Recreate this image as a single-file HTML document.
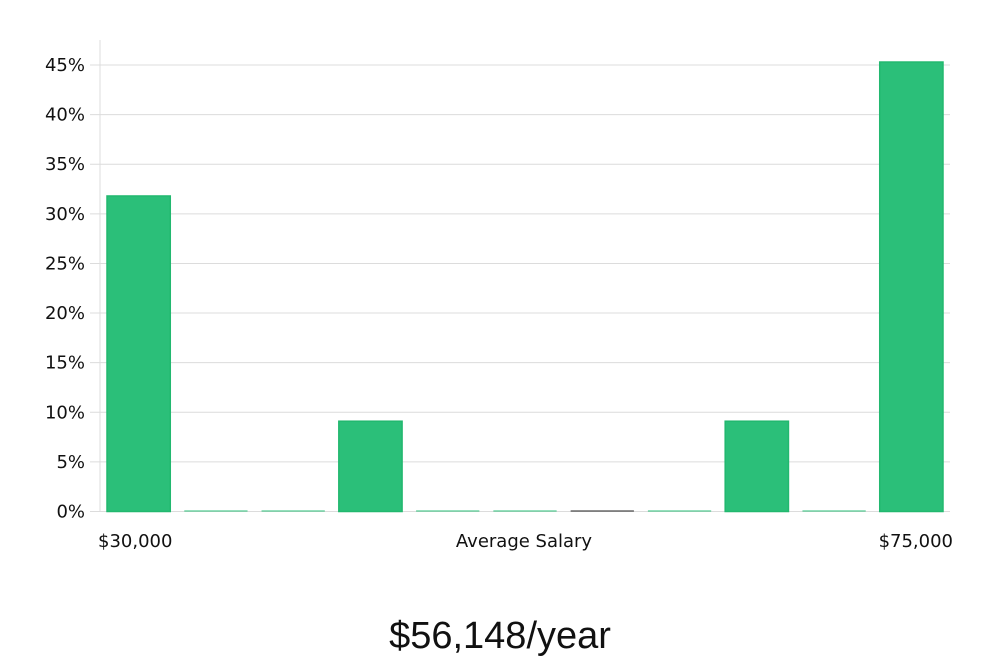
<!DOCTYPE html>
<html><head><meta charset="utf-8"><style>
body{margin:0;background:#fff;width:1000px;height:660px;overflow:hidden;font-family:"DejaVu Sans","Liberation Sans",sans-serif}
svg text{font-family:"DejaVu Sans","Liberation Sans",sans-serif;fill:#111}
</style></head><body>
<svg id="chart" width="1000" height="660" viewBox="0 0 1000 660">
<g id="grid"></g><g id="bars"></g><g id="axes"></g>
<text x="524" y="547" text-anchor="middle" font-size="18">Average Salary</text>
<text x="98" y="547" font-size="18">$30,000</text>
<text x="953" y="547" text-anchor="end" font-size="18">$75,000</text>
<text x="500" y="648" text-anchor="middle" font-size="38" style="font-family:'Liberation Sans',sans-serif;font-weight:300">$56,148/year</text>
</svg>
<script>
const categories=["b1","b2","b3","b4","b5","b6","b7","b8","b9","b10","b11"];
const values=[31.8,0,0,9.1,0,0,0,0,9.1,0,45.3];
const yTicks=[0,5,10,15,20,25,30,35,40,45];
const yTickLabels=["0%","5%","10%","15%","20%","25%","30%","35%","40%","45%"];
const NS="http://www.w3.org/2000/svg";
const x0=100,x1=950,y0=511.5,yTop=65;
function y(v){return y0-(v/45)*(y0-yTop);}
const band=(x1-x0)/categories.length;
function x(i){return x0+i*band;}
const grid=document.getElementById('grid'),bars=document.getElementById('bars'),axes=document.getElementById('axes');
yTicks.forEach((t,i)=>{
 const l=document.createElementNS(NS,'line');
 
 
 l.setAttribute('x1',i===0?90:90);l.setAttribute('x2',x1);l.setAttribute('y1',y(t));l.setAttribute('y2',y(t));
 l.setAttribute('stroke','#dcdcdc');l.setAttribute('stroke-width','1');grid.appendChild(l);
 const tx=document.createElementNS(NS,'text');
 
 
 tx.setAttribute('x',85);tx.setAttribute('y',y(t)+6);tx.setAttribute('text-anchor','end');tx.setAttribute('font-size','18');
 tx.textContent=yTickLabels[i];axes.appendChild(tx);
});
const ax=document.createElementNS(NS,'line');


ax.setAttribute('x1',x0);ax.setAttribute('x2',x0);ax.setAttribute('y1',40);ax.setAttribute('y2',y0);ax.setAttribute('stroke','#dcdcdc');axes.appendChild(ax);
values.forEach((v,i)=>{
 const r=document.createElementNS(NS,'rect');
 
 
 const h=Math.max(y0-y(v),1);
 r.setAttribute('x',x(i)+7);r.setAttribute('width',band-14);r.setAttribute('y',y0-h);r.setAttribute('height',h);
 r.setAttribute('fill',i===6&&v===0?'#222':'#2bbf79');
 if(v>0){r.setAttribute('stroke','#22b86f');r.setAttribute('stroke-width','1.5');}
 bars.appendChild(r);
});
</script>
</body></html>
